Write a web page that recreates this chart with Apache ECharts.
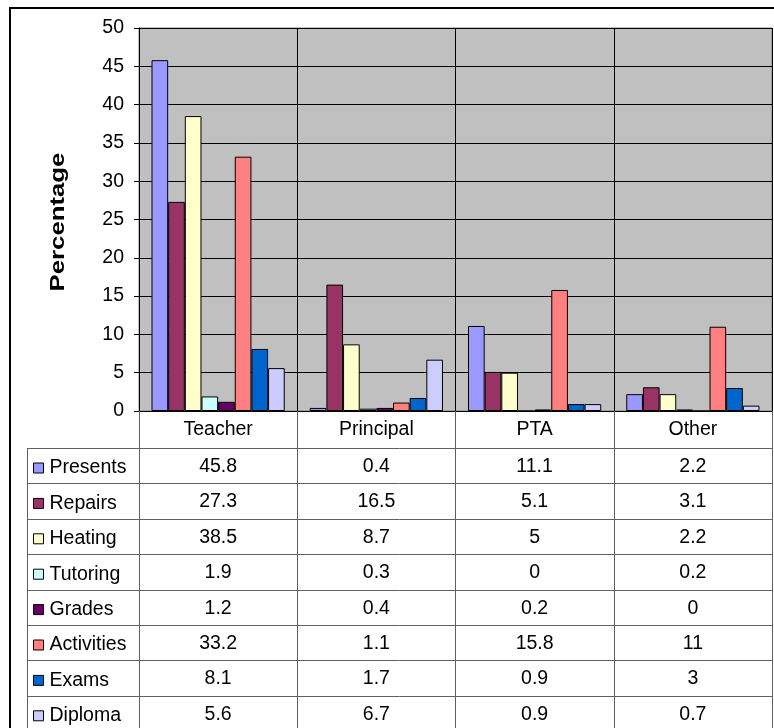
<!DOCTYPE html>
<html>
<head>
<meta charset="utf-8">
<script src="https://cdn.jsdelivr.net/npm/echarts@6/dist/echarts.min.js"></script>
<style>
html,body{margin:0;padding:0;background:#fff;}
#chart{width:774px;height:728px;}
</style>
</head>
<body>
<div id="chart"></div>
<script>
// ---- data ----
const categories = ['Teacher', 'Principal', 'PTA', 'Other'];
const seriesNames = ['Presents', 'Repairs', 'Heating', 'Tutoring', 'Grades', 'Activities', 'Exams', 'Diploma'];
const presents   = [45.8, 0.4, 11.1, 2.2];
const repairs    = [27.3, 16.5, 5.1, 3.1];
const heating    = [38.5, 8.7, 5, 2.2];
const tutoring   = [1.9, 0.3, 0, 0.2];
const grades     = [1.2, 0.4, 0.2, 0];
const activities = [33.2, 1.1, 15.8, 11];
const exams      = [8.1, 1.7, 0.9, 3];
const diploma    = [5.6, 6.7, 0.9, 0.7];
const yMin = 0, yMax = 50, yStep = 5;
const yTitle = 'Percentage';

// ---- styles ----
const colors = ['#9999FF', '#993366', '#FFFFCC', '#CCFFFF', '#660066', '#FF8080', '#0066CC', '#CCCCFF'];
const FONT = 'Liberation Sans, Arial, sans-serif';
const FS = 19.5;
const allValues = [presents, repairs, heating, tutoring, grades, activities, exams, diploma];

const gridLeft = 139, gridTop = 28, gridRight = 772, gridBottom = 411;
const headerBottom = 448, rowH = 35.4, tableLeft = 27;
const lineColor = '#606060';

const chart = echarts.init(document.getElementById('chart'), null, {renderer: 'canvas'});

const option = {
  animation: false,
  backgroundColor: '#ffffff',
  color: colors,
  textStyle: {fontFamily: FONT},
  grid: {
    left: gridLeft, top: gridTop, right: 774 - gridRight, bottom: 728 - gridBottom,
    show: true, backgroundColor: '#C0C0C0', borderColor: '#808080', borderWidth: 1,
    containLabel: false
  },
  legend: {
    orient: 'vertical',
    left: 33,
    top: headerBottom + 10,
    height: 320,
    padding: 0,
    icon: 'rect',
    itemWidth: 10,
    itemHeight: 10,
    itemGap: rowH - 20,
    itemStyle: {borderColor: '#000', borderWidth: 1},
    textStyle: {fontFamily: FONT, fontSize: FS, color: '#000', lineHeight: 20, padding: [0, 0, 0, 1]},
    selectedMode: false,
    data: seriesNames
  },
  xAxis: {
    type: 'category',
    data: categories,
    boundaryGap: true,
    axisLine: {show: true, lineStyle: {color: '#000', width: 1}},
    axisTick: {show: true, length: 728 - gridBottom, lineStyle: {color: lineColor, width: 1}},
    axisLabel: {fontFamily: FONT, fontSize: FS, color: '#000', margin: 8, lineHeight: 22},
    splitLine: {show: true, lineStyle: {color: '#000', width: 1}}
  },
  yAxis: {
    type: 'value',
    min: yMin, max: yMax, interval: yStep,
    axisLine: {show: true, lineStyle: {color: '#000', width: 1}},
    axisTick: {show: true, length: 5, lineStyle: {color: '#000'}},
    axisLabel: {fontFamily: FONT, fontSize: FS, color: '#000', margin: 15},
    splitLine: {show: true, lineStyle: {color: '#000', width: 1}}
  },
  series: seriesNames.map((name, i) => ({
    name: name,
    type: 'bar',
    data: allValues[i],
    barGap: '0%',
    barCategoryGap: '15.8%',
    itemStyle: {color: colors[i], borderColor: '#000', borderWidth: 1},
    emphasis: {disabled: true}
  }))
};
chart.setOption(option);

// ---- data table (text derived from the same arrays, positioned via the axis) ----
const graphics = [];
// outer chart border
graphics.push({type: 'rect', shape: {x: 10, y: 8, width: 800, height: 800},
  style: {fill: 'none', stroke: '#000', lineWidth: 2}, silent: true, z: 100});
// y axis title
graphics.push({type: 'text', x: 59, y: 222, rotation: Math.PI / 2, scaleX: 1.32, scaleY: 1,
  style: {text: yTitle, font: 'bold 19.5px ' + FONT, fill: '#000', align: 'center', verticalAlign: 'middle'},
  silent: true});
// horizontal table lines
for (let r = 0; r <= seriesNames.length; r++) {
  const y = Math.round(headerBottom + r * rowH) + 0.5;
  graphics.push({type: 'line', shape: {x1: tableLeft, y1: y, x2: gridRight, y2: y},
    style: {stroke: lineColor, lineWidth: 1}, silent: true});
}
// left table border
graphics.push({type: 'line', shape: {x1: tableLeft + 0.5, y1: headerBottom, x2: tableLeft + 0.5, y2: 740},
  style: {stroke: lineColor, lineWidth: 1}, silent: true});
// values
seriesNames.forEach((name, si) => {
  const cy = headerBottom + (si + 0.5) * rowH + 1;
  categories.forEach((cat, ci) => {
    const cx = chart.convertToPixel({xAxisIndex: 0}, cat);
    graphics.push({type: 'text', x: cx, y: cy,
      style: {text: String(allValues[si][ci]), font: FS + 'px ' + FONT, fill: '#000',
        align: 'center', verticalAlign: 'middle'}, silent: true});
  });
});
chart.setOption({graphic: graphics});
</script>
</body>
</html>
